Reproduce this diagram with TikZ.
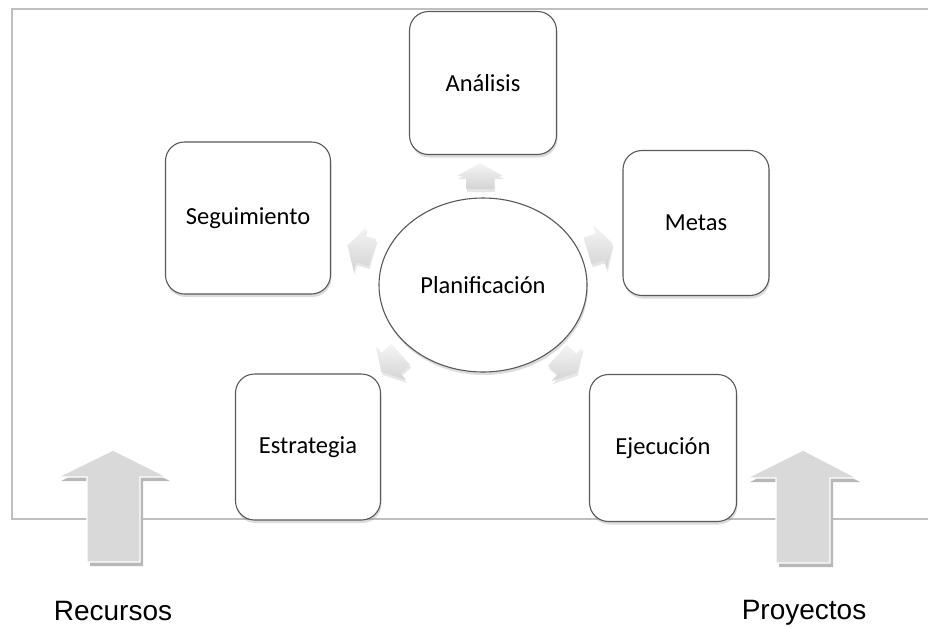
\documentclass[tikz,border=0pt]{standalone}
\usepackage{fontspec}
\newfontfamily\boxfont{Carlito}
\newfontfamily\labfont{Liberation Sans}
\usetikzlibrary{shapes.geometric,shadows}
\begin{document}
\begin{tikzpicture}[x=1pt,y=-1pt,
  frameline/.style={draw=black!25, line width=2pt},
  stagebox/.style={draw=black!65, line width=1.1pt, fill=white, rounded corners=19pt,
    font=\boxfont\fontsize{24.5}{29}\selectfont, inner sep=0pt,
    drop shadow={shadow xshift=1pt, shadow yshift=-3pt, opacity=0.28}},
  hub/.style={ellipse, draw=black!65, line width=1.1pt, fill=white,
    font=\boxfont\fontsize{24.5}{29}\selectfont, inner sep=0pt,
    minimum width=208pt, minimum height=174pt,
    drop shadow={shadow xshift=1pt, shadow yshift=-3pt, opacity=0.28}},
  smallarrow/.style={top color=black!4, bottom color=black!17, draw=none,
    drop shadow={shadow xshift=1pt, shadow yshift=-3pt, opacity=0.2}},
  bigarrow/.style={fill=black!15, draw=white, line width=1.2pt},
  bigshadow/.style={fill=black!28},
  lab/.style={font=\labfont\fontsize{28}{33}\selectfont, inner sep=0pt}
]
\useasboundingbox (0,0) rectangle (928,627);

% frame (open to the right)
\coordinate (ftr) at (929,9);
\coordinate (ftl) at (12,9);
\coordinate (fbl) at (12,519);
\coordinate (fbr) at (929,519);
\draw[frameline] (ftr) -- (ftl) -- (fbl) -- (fbr);

% boxes
\node[stagebox, minimum width=147pt, minimum height=143pt] (analisis) at (483,83) {Análisis};
\node[stagebox, minimum width=165pt, minimum height=152pt] (seguimiento) at (248,218) {Seguimiento};
\node[stagebox, minimum width=146pt, minimum height=145pt] (metas) at (696,223) {Metas};
\node[stagebox, minimum width=145pt, minimum height=146pt] (estrategia) at (308,447) {Estrategia};
\node[stagebox, minimum width=147pt, minimum height=147pt] (ejecucion) at (663,448) {Ejecución};

% centre
\node[hub] (plan) at (483,285) {Planificación};

% small block arrows from the centre
\foreach \px/\py/\ang in {480/176/90, 600/247/17, 360/249/164, 391/363/222, 567/364/-42}{
  \begin{scope}[shift={(\px,\py)}, rotate=\ang]
    \path[smallarrow] (-13,-14) -- (0,-14) -- (0,-23) -- (13,0) -- (0,23) -- (0,14) -- (-13,14) -- cycle;
  \end{scope}
}

% big arrows
\fill[bigshadow] (116,454) -- (170,481) -- (143,481) -- (143,566) -- (90,566) -- (90,481) -- (61,481) -- cycle;
\path[bigarrow] (113,450) -- (167,477) -- (140,477) -- (140,562) -- (87,562) -- (87,477) -- (58,477) -- cycle;
\fill[bigshadow] (806,454) -- (860,482) -- (833,482) -- (833,567) -- (779,567) -- (779,482) -- (750,482) -- cycle;
\path[bigarrow] (803,450) -- (857,478) -- (830,478) -- (830,563) -- (776,563) -- (776,478) -- (747,478) -- cycle;

% labels
\node[lab] (recursos) at (113,611) {Recursos};
\node[lab] (proyectos) at (804,613) {Proyectos};
\end{tikzpicture}
\end{document}
